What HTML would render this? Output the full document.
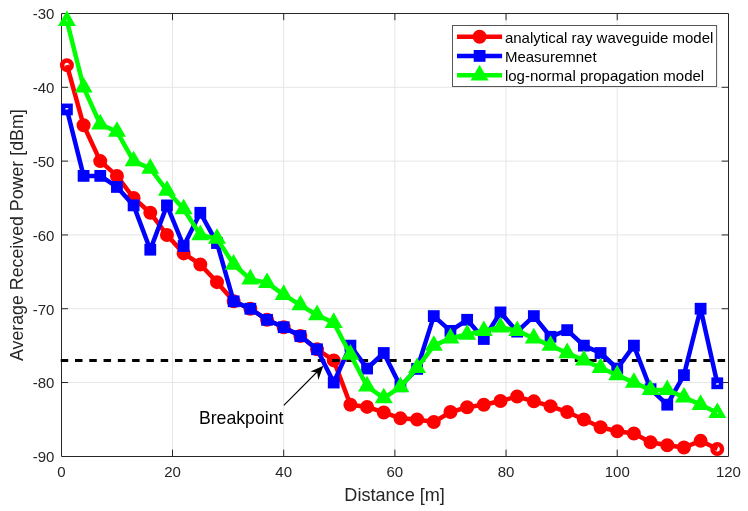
<!DOCTYPE html>
<html><head><meta charset="utf-8"><style>
html,body{margin:0;padding:0;background:#fff;}
body{width:748px;height:511px;overflow:hidden;}
svg{display:block;will-change:transform;}
text{font-family:"Liberation Sans",sans-serif;}
</style></head><body>
<svg width="748" height="511" viewBox="0 0 748 511">
<rect width="748" height="511" fill="#fff"/>
<path d="M172.53 13.5V456.35M283.7 13.5V456.35M394.88 13.5V456.35M506.05 13.5V456.35M617.23 13.5V456.35M61.35 87.31H728.4M61.35 161.12H728.4M61.35 234.93H728.4M61.35 308.73H728.4M61.35 382.54H728.4" stroke="#e6e6e6" stroke-width="1" fill="none"/>
<path d="M61.5 13.5H728.5V456.5H61.5ZM172.53 456.35v-6.7M172.53 13.5v6.7M283.7 456.35v-6.7M283.7 13.5v6.7M394.88 456.35v-6.7M394.88 13.5v6.7M506.05 456.35v-6.7M506.05 13.5v6.7M617.23 456.35v-6.7M617.23 13.5v6.7M61.35 87.31h6.7M728.4 87.31h-6.7M61.35 161.12h6.7M728.4 161.12h-6.7M61.35 234.93h6.7M728.4 234.93h-6.7M61.35 308.73h6.7M728.4 308.73h-6.7M61.35 382.54h6.7M728.4 382.54h-6.7" stroke="#262626" stroke-width="1" fill="none"/>
<polyline points="66.91,65.17 83.59,125.32 100.26,161.12 116.94,175.88 133.61,198.02 150.29,212.78 166.97,234.93 183.64,253.38 200.32,264.45 216.99,282.16 233.67,301.35 250.35,308.73 267.02,319.8 283.7,327.19 300.38,336.04 317.05,349.33 333.73,360.4 350.41,404.68 367.08,406.9 383.76,412.43 400.43,418.34 417.11,419.45 433.79,422.03 450.46,412.06 467.14,407.27 483.81,404.68 500.49,400.99 517.17,396.57 533.84,401.36 550.52,406.16 567.2,412.06 583.87,419.45 600.55,427.2 617.23,431.26 633.9,433.47 650.58,442.33 667.25,445.28 683.93,447.49 700.61,440.85 717.28,448.97" fill="none" stroke="#ff0000" stroke-width="4.5" stroke-linejoin="round"/>
<g fill="none" stroke="#ff0000" stroke-width="4.5"><circle cx="66.91" cy="65.17" r="4.75"/><circle cx="83.59" cy="125.32" r="4.75" fill="#ff0000"/><circle cx="100.26" cy="161.12" r="4.75" fill="#ff0000"/><circle cx="116.94" cy="175.88" r="4.75" fill="#ff0000"/><circle cx="133.61" cy="198.02" r="4.75" fill="#ff0000"/><circle cx="150.29" cy="212.78" r="4.75" fill="#ff0000"/><circle cx="166.97" cy="234.93" r="4.75" fill="#ff0000"/><circle cx="183.64" cy="253.38" r="4.75" fill="#ff0000"/><circle cx="200.32" cy="264.45" r="4.75" fill="#ff0000"/><circle cx="216.99" cy="282.16" r="4.75" fill="#ff0000"/><circle cx="233.67" cy="301.35" r="4.75" fill="#ff0000"/><circle cx="250.35" cy="308.73" r="4.75" fill="#ff0000"/><circle cx="267.02" cy="319.8" r="4.75" fill="#ff0000"/><circle cx="283.7" cy="327.19" r="4.75" fill="#ff0000"/><circle cx="300.38" cy="336.04" r="4.75" fill="#ff0000"/><circle cx="317.05" cy="349.33" r="4.75" fill="#ff0000"/><circle cx="333.73" cy="360.4" r="4.75" fill="#ff0000"/><circle cx="350.41" cy="404.68" r="4.75" fill="#ff0000"/><circle cx="367.08" cy="406.9" r="4.75" fill="#ff0000"/><circle cx="383.76" cy="412.43" r="4.75" fill="#ff0000"/><circle cx="400.43" cy="418.34" r="4.75" fill="#ff0000"/><circle cx="417.11" cy="419.45" r="4.75" fill="#ff0000"/><circle cx="433.79" cy="422.03" r="4.75" fill="#ff0000"/><circle cx="450.46" cy="412.06" r="4.75" fill="#ff0000"/><circle cx="467.14" cy="407.27" r="4.75" fill="#ff0000"/><circle cx="483.81" cy="404.68" r="4.75" fill="#ff0000"/><circle cx="500.49" cy="400.99" r="4.75" fill="#ff0000"/><circle cx="517.17" cy="396.57" r="4.75" fill="#ff0000"/><circle cx="533.84" cy="401.36" r="4.75" fill="#ff0000"/><circle cx="550.52" cy="406.16" r="4.75" fill="#ff0000"/><circle cx="567.2" cy="412.06" r="4.75" fill="#ff0000"/><circle cx="583.87" cy="419.45" r="4.75" fill="#ff0000"/><circle cx="600.55" cy="427.2" r="4.75" fill="#ff0000"/><circle cx="617.23" cy="431.26" r="4.75" fill="#ff0000"/><circle cx="633.9" cy="433.47" r="4.75" fill="#ff0000"/><circle cx="650.58" cy="442.33" r="4.75" fill="#ff0000"/><circle cx="667.25" cy="445.28" r="4.75" fill="#ff0000"/><circle cx="683.93" cy="447.49" r="4.75" fill="#ff0000"/><circle cx="700.61" cy="440.85" r="4.75" fill="#ff0000"/><circle cx="717.28" cy="448.97" r="4.75"/></g>
<line x1="60.72" y1="360.45" x2="728.4" y2="360.45" stroke="#000" stroke-width="2.9" stroke-dasharray="7.5 6.78"/>
<polyline points="66.91,109.45 83.59,175.88 100.26,175.88 116.94,186.95 133.61,205.4 150.29,249.69 166.97,205.4 183.64,246 200.32,212.78 216.99,243.04 233.67,301.35 250.35,308.73 267.02,319.8 283.7,327.19 300.38,336.04 317.05,349.33 333.73,382.54 350.41,345.64 367.08,368.52 383.76,353.02 400.43,386.23 417.11,368.89 433.79,316.11 450.46,330.88 467.14,319.8 483.81,338.99 500.49,312.42 517.17,331.61 533.84,316.11 550.52,336.78 567.2,330.14 583.87,345.64 600.55,353.02 617.23,368.52 633.9,345.64 650.58,389.18 667.25,404.68 683.93,375.16 700.61,308.73 717.28,383.28" fill="none" stroke="#0000ff" stroke-width="4.5" stroke-linejoin="round"/>
<g fill="none" stroke="#0000ff" stroke-width="4.5"><rect x="63.26" y="105.8" width="7.3" height="7.3"/><rect x="79.94" y="172.23" width="7.3" height="7.3" fill="#0000ff"/><rect x="96.61" y="172.23" width="7.3" height="7.3" fill="#0000ff"/><rect x="113.29" y="183.3" width="7.3" height="7.3" fill="#0000ff"/><rect x="129.96" y="201.75" width="7.3" height="7.3" fill="#0000ff"/><rect x="146.64" y="246.04" width="7.3" height="7.3" fill="#0000ff"/><rect x="163.32" y="201.75" width="7.3" height="7.3" fill="#0000ff"/><rect x="179.99" y="242.35" width="7.3" height="7.3" fill="#0000ff"/><rect x="196.67" y="209.13" width="7.3" height="7.3" fill="#0000ff"/><rect x="213.34" y="239.39" width="7.3" height="7.3" fill="#0000ff"/><rect x="230.02" y="297.7" width="7.3" height="7.3" fill="#0000ff"/><rect x="246.7" y="305.08" width="7.3" height="7.3" fill="#0000ff"/><rect x="263.37" y="316.15" width="7.3" height="7.3" fill="#0000ff"/><rect x="280.05" y="323.54" width="7.3" height="7.3" fill="#0000ff"/><rect x="296.73" y="332.39" width="7.3" height="7.3" fill="#0000ff"/><rect x="313.4" y="345.68" width="7.3" height="7.3" fill="#0000ff"/><rect x="330.08" y="378.89" width="7.3" height="7.3" fill="#0000ff"/><rect x="346.76" y="341.99" width="7.3" height="7.3" fill="#0000ff"/><rect x="363.43" y="364.87" width="7.3" height="7.3" fill="#0000ff"/><rect x="380.11" y="349.37" width="7.3" height="7.3" fill="#0000ff"/><rect x="396.78" y="382.58" width="7.3" height="7.3" fill="#0000ff"/><rect x="413.46" y="365.24" width="7.3" height="7.3" fill="#0000ff"/><rect x="430.14" y="312.46" width="7.3" height="7.3" fill="#0000ff"/><rect x="446.81" y="327.23" width="7.3" height="7.3" fill="#0000ff"/><rect x="463.49" y="316.15" width="7.3" height="7.3" fill="#0000ff"/><rect x="480.17" y="335.34" width="7.3" height="7.3" fill="#0000ff"/><rect x="496.84" y="308.77" width="7.3" height="7.3" fill="#0000ff"/><rect x="513.52" y="327.96" width="7.3" height="7.3" fill="#0000ff"/><rect x="530.19" y="312.46" width="7.3" height="7.3" fill="#0000ff"/><rect x="546.87" y="333.13" width="7.3" height="7.3" fill="#0000ff"/><rect x="563.55" y="326.49" width="7.3" height="7.3" fill="#0000ff"/><rect x="580.22" y="341.99" width="7.3" height="7.3" fill="#0000ff"/><rect x="596.9" y="349.37" width="7.3" height="7.3" fill="#0000ff"/><rect x="613.58" y="364.87" width="7.3" height="7.3" fill="#0000ff"/><rect x="630.25" y="341.99" width="7.3" height="7.3" fill="#0000ff"/><rect x="646.93" y="385.53" width="7.3" height="7.3" fill="#0000ff"/><rect x="663.6" y="401.03" width="7.3" height="7.3" fill="#0000ff"/><rect x="680.28" y="371.51" width="7.3" height="7.3" fill="#0000ff"/><rect x="696.96" y="305.08" width="7.3" height="7.3" fill="#0000ff"/><rect x="713.63" y="379.63" width="7.3" height="7.3"/></g>
<polyline points="66.91,20.88 83.59,87.31 100.26,124.21 116.94,131.59 133.61,161.12 150.29,168.5 166.97,190.64 183.64,209.09 200.32,234.93 216.99,238.62 233.67,264.45 250.35,279.21 267.02,282.9 283.7,294.71 300.38,305.04 317.05,315.01 333.73,322.76 350.41,354.49 367.08,386.23 383.76,398.04 400.43,386.97 417.11,367.78 433.79,345.64 450.46,338.26 467.14,334.57 483.81,330.88 500.49,327.19 517.17,330.88 533.84,338.26 550.52,345.64 567.2,353.02 583.87,360.4 600.55,367.78 617.23,375.16 633.9,382.54 650.58,389.92 667.25,389.92 683.93,397.3 700.61,404.68 717.28,412.8" fill="none" stroke="#00ff00" stroke-width="4.5" stroke-linejoin="round"/>
<g fill="none" stroke="#00ff00" stroke-width="4.5"><path d="M66.91 14.98L72.02 23.83L61.8 23.83Z"/><path d="M83.59 81.41L88.69 90.26L78.48 90.26Z" fill="#00ff00"/><path d="M100.26 118.31L105.37 127.16L95.15 127.16Z" fill="#00ff00"/><path d="M116.94 125.69L122.05 134.54L111.83 134.54Z" fill="#00ff00"/><path d="M133.61 155.22L138.72 164.07L128.5 164.07Z" fill="#00ff00"/><path d="M150.29 162.6L155.4 171.45L145.18 171.45Z" fill="#00ff00"/><path d="M166.97 184.74L172.08 193.59L161.86 193.59Z" fill="#00ff00"/><path d="M183.64 203.19L188.75 212.04L178.53 212.04Z" fill="#00ff00"/><path d="M200.32 229.03L205.43 237.88L195.21 237.88Z" fill="#00ff00"/><path d="M216.99 232.72L222.1 241.57L211.89 241.57Z" fill="#00ff00"/><path d="M233.67 258.55L238.78 267.4L228.56 267.4Z" fill="#00ff00"/><path d="M250.35 273.31L255.46 282.16L245.24 282.16Z" fill="#00ff00"/><path d="M267.02 277L272.13 285.85L261.91 285.85Z" fill="#00ff00"/><path d="M283.7 288.81L288.81 297.66L278.59 297.66Z" fill="#00ff00"/><path d="M300.38 299.14L305.49 307.99L295.27 307.99Z" fill="#00ff00"/><path d="M317.05 309.11L322.16 317.96L311.94 317.96Z" fill="#00ff00"/><path d="M333.73 316.86L338.84 325.71L328.62 325.71Z" fill="#00ff00"/><path d="M350.41 348.59L355.51 357.44L345.3 357.44Z" fill="#00ff00"/><path d="M367.08 380.33L372.19 389.18L361.97 389.18Z" fill="#00ff00"/><path d="M383.76 392.14L388.87 400.99L378.65 400.99Z" fill="#00ff00"/><path d="M400.43 381.07L405.54 389.92L395.32 389.92Z" fill="#00ff00"/><path d="M417.11 361.88L422.22 370.73L412 370.73Z" fill="#00ff00"/><path d="M433.79 339.74L438.9 348.59L428.68 348.59Z" fill="#00ff00"/><path d="M450.46 332.36L455.57 341.21L445.35 341.21Z" fill="#00ff00"/><path d="M467.14 328.67L472.25 337.52L462.03 337.52Z" fill="#00ff00"/><path d="M483.81 324.98L488.92 333.83L478.71 333.83Z" fill="#00ff00"/><path d="M500.49 321.29L505.6 330.14L495.38 330.14Z" fill="#00ff00"/><path d="M517.17 324.98L522.28 333.83L512.06 333.83Z" fill="#00ff00"/><path d="M533.84 332.36L538.95 341.21L528.73 341.21Z" fill="#00ff00"/><path d="M550.52 339.74L555.63 348.59L545.41 348.59Z" fill="#00ff00"/><path d="M567.2 347.12L572.31 355.97L562.09 355.97Z" fill="#00ff00"/><path d="M583.87 354.5L588.98 363.35L578.76 363.35Z" fill="#00ff00"/><path d="M600.55 361.88L605.66 370.73L595.44 370.73Z" fill="#00ff00"/><path d="M617.23 369.26L622.33 378.11L612.12 378.11Z" fill="#00ff00"/><path d="M633.9 376.64L639.01 385.49L628.79 385.49Z" fill="#00ff00"/><path d="M650.58 384.02L655.69 392.87L645.47 392.87Z" fill="#00ff00"/><path d="M667.25 384.02L672.36 392.87L662.14 392.87Z" fill="#00ff00"/><path d="M683.93 391.4L689.04 400.25L678.82 400.25Z" fill="#00ff00"/><path d="M700.61 398.78L705.72 407.63L695.5 407.63Z" fill="#00ff00"/><path d="M717.28 406.9L722.39 415.75L712.17 415.75Z"/></g>
<g fill="#262626" font-size="15"><text x="54.4" y="19.3" text-anchor="end">-30</text><text x="54.4" y="93.11" text-anchor="end">-40</text><text x="54.4" y="166.92" text-anchor="end">-50</text><text x="54.4" y="240.73" text-anchor="end">-60</text><text x="54.4" y="314.53" text-anchor="end">-70</text><text x="54.4" y="388.34" text-anchor="end">-80</text><text x="54.4" y="462.15" text-anchor="end">-90</text><text x="61.35" y="477.2" text-anchor="middle">0</text><text x="172.53" y="477.2" text-anchor="middle">20</text><text x="283.7" y="477.2" text-anchor="middle">40</text><text x="394.88" y="477.2" text-anchor="middle">60</text><text x="506.05" y="477.2" text-anchor="middle">80</text><text x="617.23" y="477.2" text-anchor="middle">100</text><text x="728.4" y="477.2" text-anchor="middle">120</text></g>
<text x="394.6" y="500.7" font-size="18.1" fill="#262626" text-anchor="middle">Distance [m]</text>
<text transform="translate(22.6 235.2) rotate(-90)" font-size="17.8" fill="#262626" text-anchor="middle">Average Received Power [dBm]</text>
<line x1="283.8" y1="405.3" x2="318" y2="371" stroke="#000" stroke-width="1.1"/>
<path d="M323.4 365.8L310.5 371.6L317.2 372.6L318.3 380Z" fill="#000"/>
<text x="198.9" y="423.8" font-size="17.7" fill="#000">Breakpoint</text>
<rect x="452.5" y="25.5" width="264.1" height="61" fill="#fff" stroke="#555" stroke-width="1"/>
<line x1="457" y1="36.7" x2="502.1" y2="36.7" stroke="#ff0000" stroke-width="4.5"/><g fill="#ff0000" stroke="#ff0000" stroke-width="4.5"><circle cx="479.6" cy="36.7" r="4.75"/></g><text x="504.9" y="42.5" font-size="15" fill="#000">analytical ray waveguide model</text>
<line x1="457" y1="55.9" x2="502.1" y2="55.9" stroke="#0000ff" stroke-width="4.5"/><g fill="#0000ff" stroke="#0000ff" stroke-width="4.5"><rect x="475.95" y="52.25" width="7.3" height="7.3"/></g><text x="504.9" y="61.7" font-size="15" fill="#000">Measuremnet</text>
<line x1="457" y1="75.2" x2="502.1" y2="75.2" stroke="#00ff00" stroke-width="4.5"/><g fill="#00ff00" stroke="#00ff00" stroke-width="4.5"><path d="M479.6 69.3L484.71 78.15L474.49 78.15Z"/></g><text x="504.9" y="81" font-size="15" fill="#000">log-normal propagation model</text>
</svg>
</body></html>
